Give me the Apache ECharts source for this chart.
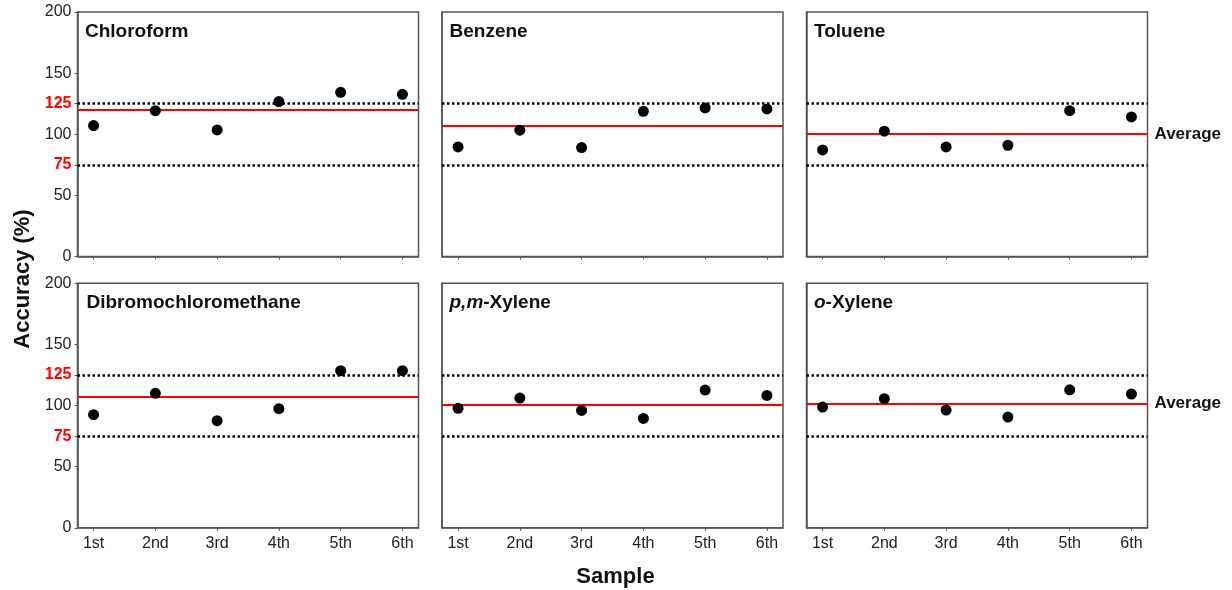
<!DOCTYPE html>
<html>
<head>
<meta charset="utf-8">
<script src="https://cdn.jsdelivr.net/npm/echarts@6/dist/echarts.min.js"></script>
<style>
html,body{margin:0;padding:0;background:#fff;}
#chart{width:1232px;height:590px;}
</style>
</head>
<body>
<div id="chart"></div>
<script>
// ---- data ----
const samples = ['1st', '2nd', '3rd', '4th', '5th', '6th'];
const compounds = ['Chloroform', 'Benzene', 'Toluene', 'Dibromochloromethane', 'p,m-Xylene', 'o-Xylene'];
const chloroform = [107.1, 119.3, 103.5, 126.7, 134.3, 132.7];
const benzene = [89.6, 103.3, 89.1, 118.8, 121.5, 120.7];
const toluene = [87.2, 102.5, 89.6, 91.0, 119.3, 114.2];
const dibromochloromethane = [92.5, 110.0, 87.6, 97.4, 128.5, 128.5];
const pmXylene = [97.7, 106.1, 96.0, 89.5, 112.7, 108.3];
const oXylene = [98.8, 105.6, 96.3, 90.6, 112.9, 109.4];
const averages = [120.2, 106.8, 100.3, 107.0, 101.0, 101.8];
const limits = [125, 75];
const yTickValues = [0, 50, 75, 100, 125, 150, 200];
const redTicks = [75, 125];

const seriesValues = [chloroform, benzene, toluene, dibromochloromethane, pmXylene, oXylene];
const titleTexts = [
  'Chloroform', 'Benzene', 'Toluene', 'Dibromochloromethane',
  '{i|p,m}{b|-Xylene}', '{i|o}{b|-Xylene}'
];

// ---- layout ----
const FONT = '"Liberation Sans", Arial, sans-serif';
const colLeft = [77.5, 442, 806.5];
const rowTop = [12, 283.3];
const W = 341, H = 244.5;

const grids = [], xAxes = [], yAxes = [], series = [], titles = [];
for (let k = 0; k < 6; k++) {
  const r = Math.floor(k / 3), c = k % 3;
  grids.push({
    left: colLeft[c], top: rowTop[r], width: W, height: H,
    show: true, borderColor: '#555', borderWidth: 1.5, backgroundColor: '#fff'
  });
  xAxes.push({
    type: 'value', gridIndex: k, min: 0.74, max: 6.26,
    axisLine: { show: true, onZero: false, lineStyle: { color: '#555', width: 1.5 } },
    axisTick: { show: true, length: 3, inside: false, customValues: [1, 2, 3, 4, 5, 6], lineStyle: { color: '#555', width: 1 } },
    axisLabel: {
      show: r === 1, customValues: [1, 2, 3, 4, 5, 6], margin: 8,
      fontFamily: FONT, fontSize: 16, color: '#222',
      formatter: v => samples[Math.round(v) - 1] || ''
    },
    splitLine: { show: false }
  });
  yAxes.push({
    type: 'value', gridIndex: k, min: 0, max: 200,
    axisLine: { show: true, lineStyle: { color: '#555', width: 1.5 } },
    axisTick: { show: c === 0, length: 3, customValues: yTickValues, lineStyle: { color: '#555', width: 1 } },
    axisLabel: {
      show: c === 0, customValues: yTickValues, margin: 6,
      fontFamily: FONT, fontSize: 16, color: '#222',
      formatter: v => redTicks.indexOf(v) >= 0 ? '{red|' + v + '}' : String(v),
      rich: { red: { color: '#ff0000', fontWeight: 'bold', fontSize: 16, fontFamily: FONT } }
    },
    splitLine: { show: false }
  });
  const dottedStyle = { color: '#000', width: 2.5, type: [2.5, 2.5] };
  series.push({
    type: 'scatter', xAxisIndex: k, yAxisIndex: k,
    data: seriesValues[k].map((v, i) => [i + 1, v]),
    symbol: 'circle', symbolSize: 11,
    itemStyle: { color: '#000', opacity: 1 },
    z: 5,
    markLine: {
      silent: true, symbol: 'none', animation: false,
      data: [
        {
          yAxis: averages[k],
          lineStyle: { color: '#ff0000', width: 2, type: 'solid' },
          label: {
            show: c === 2, position: 'end', formatter: 'Average', distance: 7,
            fontFamily: FONT, fontSize: 17, fontWeight: 'bold', color: '#111'
          }
        },
        { yAxis: limits[0], lineStyle: dottedStyle, label: { show: false } },
        { yAxis: limits[1], lineStyle: dottedStyle, label: { show: false } }
      ]
    }
  });
  titles.push({
    text: titleTexts[k],
    left: colLeft[c] + (r === 1 && c === 0 ? 9 : 7.5),
    top: rowTop[r] + 10,
    padding: 0,
    textStyle: {
      fontFamily: FONT, fontSize: 19, fontWeight: 'bold', color: '#111',
      rich: {
        i: { fontFamily: FONT, fontSize: 19, fontWeight: 'bold', fontStyle: 'italic', color: '#111' },
        b: { fontFamily: FONT, fontSize: 19, fontWeight: 'bold', color: '#111' }
      }
    }
  });
}

const chart = echarts.init(document.getElementById('chart'), null, { renderer: 'canvas' });
chart.setOption({
  animation: false,
  backgroundColor: '#fff',
  title: titles,
  grid: grids,
  xAxis: xAxes,
  yAxis: yAxes,
  series: series,
  graphic: [
    {
      type: 'text', x: 23, y: 279, rotation: Math.PI / 2,
      style: {
        text: 'Accuracy (%)', fontFamily: FONT, fontSize: 22, fontWeight: 'bold',
        fill: '#111', align: 'center', verticalAlign: 'middle'
      }
    },
    {
      type: 'text', x: 615.5, y: 577,
      style: {
        text: 'Sample', fontFamily: FONT, fontSize: 22, fontWeight: 'bold',
        fill: '#111', align: 'center', verticalAlign: 'middle'
      }
    }
  ]
});
</script>
</body>
</html>
